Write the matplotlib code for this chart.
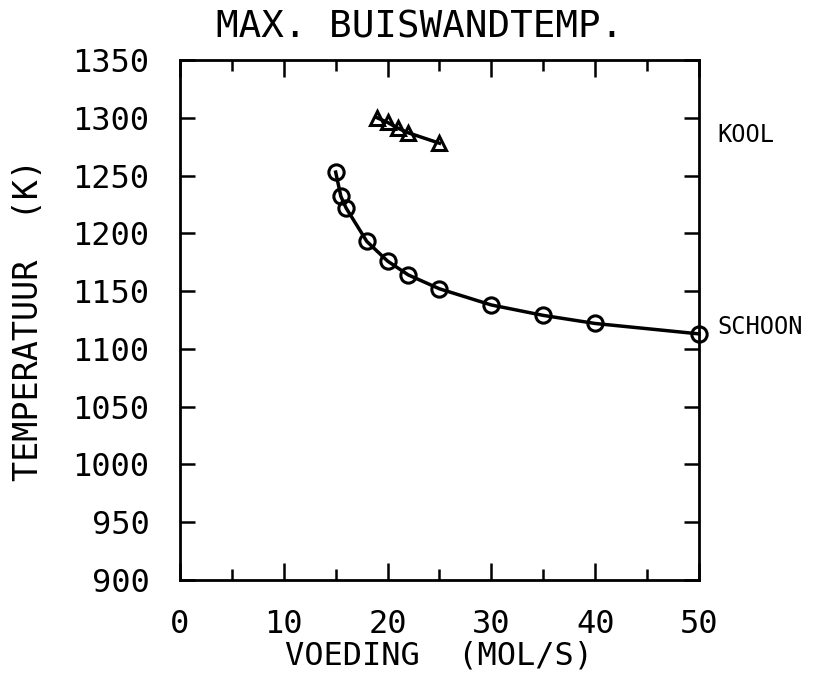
import matplotlib
matplotlib.use('Agg')
import matplotlib.pyplot as plt
from matplotlib.ticker import MultipleLocator

# Data
schoon_x = [15, 15.5, 16, 18, 20, 22, 25, 30, 35, 40, 50]
schoon_y = [1253, 1232, 1222, 1193, 1176, 1164, 1152, 1138, 1129, 1122, 1113]
kool_x = [19, 20, 21, 22, 25]
kool_y = [1300, 1296, 1291, 1287, 1278]

x_ticks = [0, 10, 20, 30, 40, 50]
y_ticks = [900, 950, 1000, 1050, 1100, 1150, 1200, 1250, 1300, 1350]

plt.rcParams['font.family'] = ['DejaVu Sans Mono']

fig = plt.figure(figsize=(8.14, 6.73), dpi=100)
ax = fig.add_axes([0.2211, 0.1382, 0.6376, 0.7726])

ax.plot(schoon_x, schoon_y, '-', color='black', lw=2.5,
        marker='o', ms=11, mfc='none', mec='black', mew=2.2, clip_on=False)
ax.plot(kool_x, kool_y, '-', color='black', lw=2.5,
        marker='^', ms=10, mfc='none', mec='black', mew=2.2, clip_on=False)

ax.set_xlim(0, 50)
ax.set_ylim(900, 1350)
ax.set_xticks(x_ticks)
ax.set_yticks(y_ticks)
ax.xaxis.set_minor_locator(MultipleLocator(5))

ax.tick_params(axis='both', which='both', direction='in', top=True, right=True,
               width=1.8, labelsize=23)
ax.tick_params(axis='x', which='major', length=12, pad=21)
ax.tick_params(axis='x', which='minor', length=8)
ax.tick_params(axis='y', which='major', length=11, pad=22)
for s in ax.spines.values():
    s.set_linewidth(2)

ax.set_xlabel('VOEDING  (MOL/S)', fontsize=23, labelpad=0)
ax.set_ylabel('TEMPERATUUR  (K)', fontsize=24, labelpad=20)
ax.set_title('MAX. BUISWANDTEMP.', fontsize=27, pad=16, x=0.462)

ax.text(1.035, 1285, 'KOOL', transform=ax.get_yaxis_transform(),
        fontsize=17, va='center', ha='left')
ax.text(1.035, 1119, 'SCHOON', transform=ax.get_yaxis_transform(),
        fontsize=17, va='center', ha='left')

fig.savefig('out.png', dpi=100)
